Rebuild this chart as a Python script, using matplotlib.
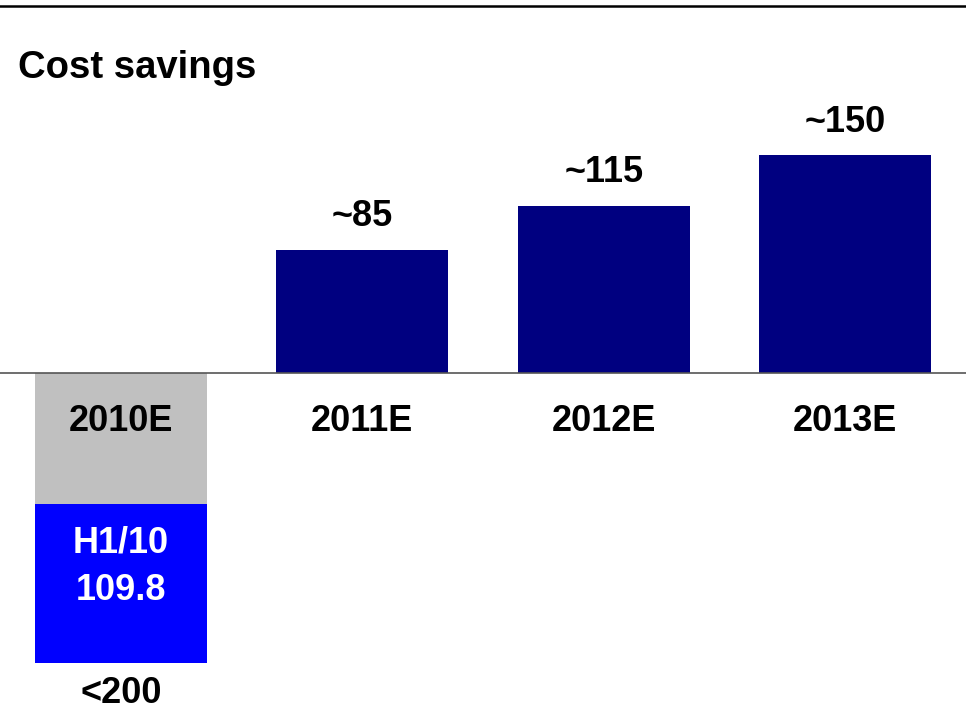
import matplotlib
matplotlib.use("Agg")
import matplotlib.pyplot as plt
from matplotlib.lines import Line2D

plt.rcParams["font.family"] = ["Liberation Sans", "DejaVu Sans"]
plt.rcParams["font.weight"] = "bold"

# data
years = ["2010E", "2011E", "2012E", "2013E"]
savings = [None, 85, 115, 150]
labels = ["", "~85", "~115", "~150"]
total_2010 = 200      # shown as "<200"
h1_2010 = 109.8

NAVY = "#000080"
BLUE = "#0000FF"
GREY = "#C0C0C0"

fig = plt.figure(figsize=(9.66, 7.12), dpi=100)
ax = fig.add_axes([0, 0, 1, 1])
ax.set_xlim(-0.5, 3.5)
ax.set_ylim(-233.8, 257.2)
ax.axis("off")

w = 0.712
fs = 26

# future years, positive bars
for i, (y, v, lab) in enumerate(zip(years, savings, labels)):
    if v is None:
        continue
    ax.bar(i, v, width=w, color=NAVY, zorder=2)
    ax.text(i, v + 16.5, lab, ha="center", va="baseline", fontsize=fs)
    ax.text(i, -40, y, ha="center", va="baseline", fontsize=fs)

# 2010E drawn downwards: grey on top, H1 part in blue below
grey_part = total_2010 - h1_2010
ax.bar(0, -grey_part, width=w, color=GREY, zorder=2)
ax.bar(0, -h1_2010, bottom=-grey_part, width=w, color=BLUE, zorder=2)
ax.text(0, -40, years[0], ha="center", va="baseline", fontsize=fs)
ax.text(0, -124, "H1/10", ha="center", va="baseline", fontsize=fs, color="white")
ax.text(0, -156.6, f"{h1_2010:.1f}", ha="center", va="baseline", fontsize=fs, color="white")
ax.text(0, -233.3, f"<{total_2010}", ha="center", va="bottom", fontsize=fs)

ax.axhline(0, color="#555555", lw=1.2, zorder=3)

fig.add_artist(Line2D([0, 1], [1 - 6 / 712, 1 - 6 / 712], color="black", lw=1.8))
fig.text(18 / 966, 1 - 78 / 712, "Cost savings", ha="left", va="baseline", fontsize=27.5)

fig.savefig("out.png", dpi=100)
